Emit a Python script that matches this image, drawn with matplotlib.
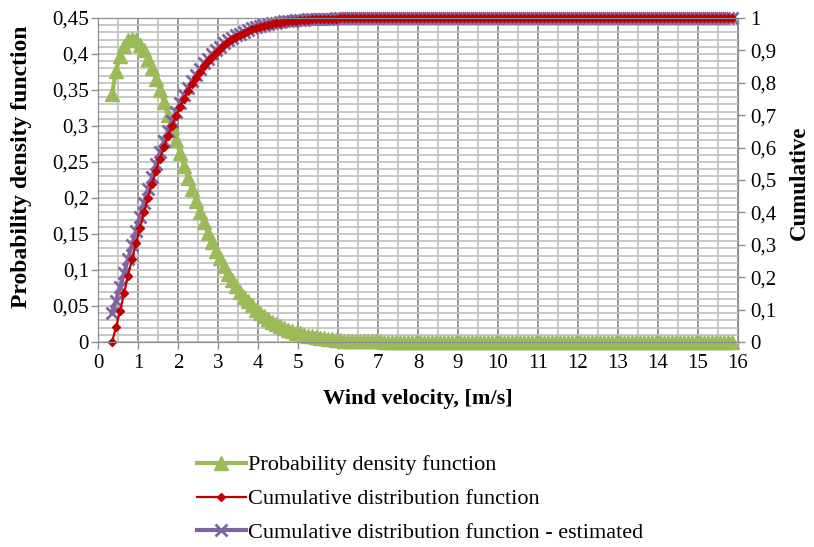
import numpy as np
import matplotlib
matplotlib.use("Agg")
import matplotlib.pyplot as plt
from matplotlib.ticker import MultipleLocator, FuncFormatter

plt.rcParams['font.family'] = ['Liberation Serif', 'DejaVu Serif']

# wind speed bins, 0.35 ... 15.85 m/s (156 points)
wind_speed = np.round(0.35 + 0.1 * np.arange(156), 2)

# probability density (left axis)
pdf_values = [
    0.345, 0.376, 0.397, 0.411, 0.419, 0.421, 0.419, 0.413, 0.405, 0.393,
    0.380, 0.365, 0.350, 0.333, 0.315, 0.298, 0.280, 0.262, 0.245, 0.228,
    0.212, 0.196, 0.180, 0.166, 0.152, 0.139, 0.127, 0.116, 0.105, 0.095,
    0.086, 0.078, 0.070, 0.063, 0.057, 0.051, 0.045, 0.040, 0.036, 0.032,
    0.028, 0.025, 0.022, 0.020, 0.017, 0.015, 0.013, 0.012, 0.010, 0.009,
    0.008, 0.007, 0.006, 0.005, 0.004, 0.004, 0.003, 0.003, 0.002, 0.002,
    0.002, 0.001, 0.001, 0.001, 0.001, 0.001, 0.001, 0.001, 0.000, 0.000,
    0.000, 0.000, 0.000, 0.000, 0.000, 0.000, 0.000, 0.000, 0.000, 0.000,
    0.000, 0.000, 0.000, 0.000, 0.000, 0.000, 0.000, 0.000, 0.000, 0.000,
    0.000, 0.000, 0.000, 0.000, 0.000, 0.000, 0.000, 0.000, 0.000, 0.000,
    0.000, 0.000, 0.000, 0.000, 0.000, 0.000, 0.000, 0.000, 0.000, 0.000,
    0.000, 0.000, 0.000, 0.000, 0.000, 0.000, 0.000, 0.000, 0.000, 0.000,
    0.000, 0.000, 0.000, 0.000, 0.000, 0.000, 0.000, 0.000, 0.000, 0.000,
    0.000, 0.000, 0.000, 0.000, 0.000, 0.000, 0.000, 0.000, 0.000, 0.000,
    0.000, 0.000, 0.000, 0.000, 0.000, 0.000, 0.000, 0.000, 0.000, 0.000,
    0.000, 0.000, 0.000, 0.000, 0.000, 0.000,
]

# cumulative distribution (right axis)
cdf_values = [
    0.000, 0.045, 0.095, 0.150, 0.205, 0.255, 0.305, 0.352, 0.400, 0.445,
    0.488, 0.528, 0.566, 0.601, 0.635, 0.667, 0.697, 0.724, 0.750, 0.774,
    0.796, 0.816, 0.834, 0.851, 0.866, 0.880, 0.893, 0.905, 0.916, 0.925,
    0.934, 0.941, 0.948, 0.954, 0.960, 0.965, 0.969, 0.973, 0.976, 0.979,
    0.982, 0.984, 0.986, 0.988, 0.990, 0.991, 0.992, 0.993, 0.994, 0.995,
    0.996, 0.996, 0.997, 0.997, 0.998, 0.998, 0.998, 0.999, 0.999, 0.999,
    0.999, 0.999, 1.000, 1.000, 1.000, 1.000, 1.000, 1.000, 1.000, 1.000,
    1.000, 1.000, 1.000, 1.000, 1.000, 1.000, 1.000, 1.000, 1.000, 1.000,
    1.000, 1.000, 1.000, 1.000, 1.000, 1.000, 1.000, 1.000, 1.000, 1.000,
    1.000, 1.000, 1.000, 1.000, 1.000, 1.000, 1.000, 1.000, 1.000, 1.000,
    1.000, 1.000, 1.000, 1.000, 1.000, 1.000, 1.000, 1.000, 1.000, 1.000,
    1.000, 1.000, 1.000, 1.000, 1.000, 1.000, 1.000, 1.000, 1.000, 1.000,
    1.000, 1.000, 1.000, 1.000, 1.000, 1.000, 1.000, 1.000, 1.000, 1.000,
    1.000, 1.000, 1.000, 1.000, 1.000, 1.000, 1.000, 1.000, 1.000, 1.000,
    1.000, 1.000, 1.000, 1.000, 1.000, 1.000, 1.000, 1.000, 1.000, 1.000,
    1.000, 1.000, 1.000, 1.000, 1.000, 1.000,
]

# estimated cumulative distribution (right axis)
cdf_estimated = [
    0.090, 0.128, 0.170, 0.212, 0.256, 0.300, 0.344, 0.387, 0.430, 0.471,
    0.510, 0.548, 0.585, 0.619, 0.651, 0.682, 0.710, 0.737, 0.762, 0.785,
    0.806, 0.825, 0.843, 0.860, 0.874, 0.888, 0.900, 0.912, 0.922, 0.931,
    0.939, 0.946, 0.952, 0.958, 0.963, 0.968, 0.972, 0.976, 0.979, 0.981,
    0.984, 0.986, 0.988, 0.990, 0.991, 0.992, 0.993, 0.994, 0.995, 0.996,
    0.996, 0.997, 0.997, 0.998, 0.998, 0.998, 0.999, 0.999, 0.999, 0.999,
    0.999, 1.000, 1.000, 1.000, 1.000, 1.000, 1.000, 1.000, 1.000, 1.000,
    1.000, 1.000, 1.000, 1.000, 1.000, 1.000, 1.000, 1.000, 1.000, 1.000,
    1.000, 1.000, 1.000, 1.000, 1.000, 1.000, 1.000, 1.000, 1.000, 1.000,
    1.000, 1.000, 1.000, 1.000, 1.000, 1.000, 1.000, 1.000, 1.000, 1.000,
    1.000, 1.000, 1.000, 1.000, 1.000, 1.000, 1.000, 1.000, 1.000, 1.000,
    1.000, 1.000, 1.000, 1.000, 1.000, 1.000, 1.000, 1.000, 1.000, 1.000,
    1.000, 1.000, 1.000, 1.000, 1.000, 1.000, 1.000, 1.000, 1.000, 1.000,
    1.000, 1.000, 1.000, 1.000, 1.000, 1.000, 1.000, 1.000, 1.000, 1.000,
    1.000, 1.000, 1.000, 1.000, 1.000, 1.000, 1.000, 1.000, 1.000, 1.000,
    1.000, 1.000, 1.000, 1.000, 1.000, 1.000,
]

labels = ['Probability density function',
          'Cumulative distribution function',
          'Cumulative distribution function - estimated']


def comma_fmt(v, pos):
    s = f"{v:.2f}".rstrip('0').rstrip('.')
    return s.replace('.', ',')


fig = plt.figure(figsize=(8.14, 5.47), dpi=100)
ax = fig.add_axes([98 / 814, 1 - 342 / 547, 640 / 814, 324 / 547])
ax2 = ax.twinx()

# grid: x major every 1, minor every 0.5; y every 0.01
ax.set_xlim(0, 16)
ax.set_ylim(0, 0.45)
ax.xaxis.set_major_locator(MultipleLocator(1))
ax.xaxis.set_minor_locator(MultipleLocator(0.5))
ax.yaxis.set_major_locator(MultipleLocator(0.05))
ax.yaxis.set_minor_locator(MultipleLocator(0.01))
ax.grid(which='minor', axis='both', color='#C4C4C4', lw=1.3)
ax.grid(which='major', axis='y', color='#C4C4C4', lw=1.3)
ax.grid(which='major', axis='x', color='#8C8C8C', lw=1.3)
ax.set_axisbelow(True)

ax2.set_ylim(0, 1)
ax2.yaxis.set_major_locator(MultipleLocator(0.1))

for a in (ax, ax2):
    for sp in a.spines.values():
        sp.set_color('#8C8C8C')
    a.tick_params(which='major', direction='out', length=5, color='#8C8C8C',
                  labelsize=15, width=1)
    a.tick_params(which='minor', length=0)
    a.yaxis.set_major_formatter(FuncFormatter(comma_fmt))
ax.tick_params(axis='y', pad=1.5)
ax.spines['top'].set_color('#C4C4C4')

l1, = ax.plot(wind_speed, pdf_values, color='#9BBB59', lw=3,
              marker='^', ms=10.5, mec='#9BBB59', clip_on=False)
l3, = ax2.plot(wind_speed, cdf_estimated, color='#8064A2', lw=3,
               marker='x', ms=8, mew=2, clip_on=False)
l2, = ax2.plot(wind_speed, cdf_values, color='#C00000', lw=1.6,
               marker='D', ms=4, clip_on=False)

ax.set_xlabel('Wind velocity, [m/s]', fontsize=16, fontweight='bold')
ax.set_ylabel('Probability density function', fontsize=17, fontweight='bold')
ax2.set_ylabel('Cumulative', fontsize=16.5, fontweight='bold')
ax.xaxis.set_label_coords(0.5, -0.145)
ax.yaxis.set_label_coords(-0.103, 0.54)
ax2.yaxis.set_label_coords(1.08, 0.49)

fig.legend([l1, l2, l3], labels, loc='upper left',
           bbox_to_anchor=(188 / 814, 1 - 446 / 547), frameon=False,
           fontsize=16, handlelength=2.2, handletextpad=0.1,
           labelspacing=0.6, borderaxespad=0)

fig.savefig('out.png', dpi=100)
